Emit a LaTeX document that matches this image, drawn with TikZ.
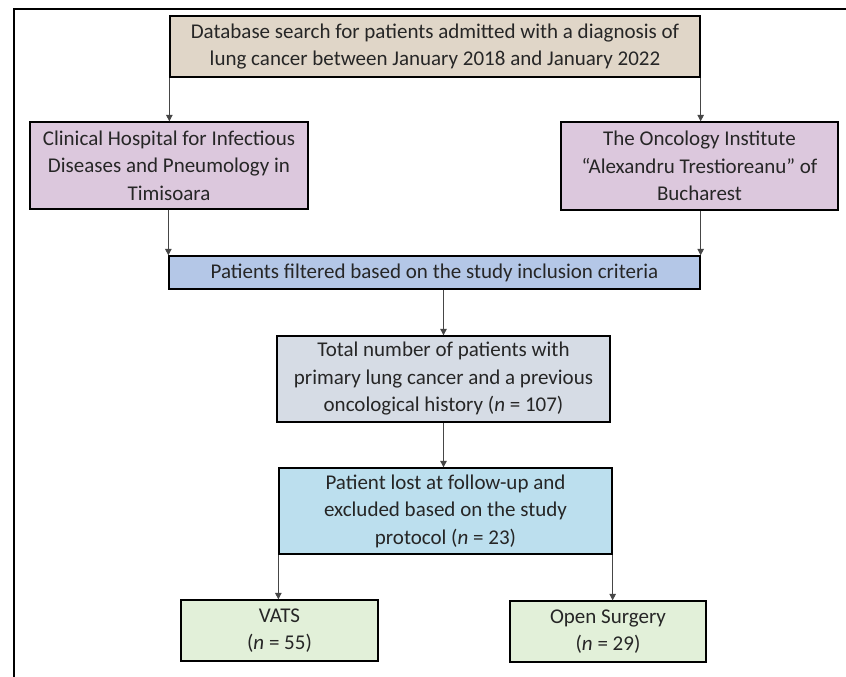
\documentclass[tikz,border=0pt]{standalone}
\usepackage{fontspec}
\setmainfont{Carlito}
\usetikzlibrary{arrows.meta}
\definecolor{cTop}{RGB}{224,214,200}
\definecolor{cPur}{RGB}{220,200,221}
\definecolor{cFil}{RGB}{180,199,231}
\definecolor{cTot}{RGB}{214,220,229}
\definecolor{cLost}{RGB}{188,223,238}
\definecolor{cGrn}{RGB}{226,240,217}
\definecolor{cArr}{RGB}{70,70,70}
\tikzset{
  box/.style={draw=black, line width=1.3pt, align=center, inner sep=0pt,
    font=\fontsize{21}{27.5}\selectfont, text=black!85},
  arr/.style={draw=cArr, line width=0.9pt, -{Triangle[width=6.5pt,length=6.5pt]}}
}
\begin{document}
\begin{tikzpicture}[x=1pt,y=-1pt]
\useasboundingbox (0,0) rectangle (846,677);
\fill[white] (0,0) rectangle (846,677);
\draw[line width=1.3pt] (846,9) -- (14,9) -- (14,677);
\node[box, fill=cTop, minimum width=530pt, minimum height=61pt] (top) at (435,46.5)
  {Database search for patients admitted with a diagnosis of\\lung cancer between January 2018 and January 2022};
\node[box, fill=cPur, minimum width=278pt, minimum height=87pt] (lp) at (169,165.5)
  {Clinical Hospital for Infectious\\Diseases and Pneumology in\\Timisoara};
\node[box, fill=cPur, minimum width=277pt, minimum height=88pt] (rp) at (699.5,166)
  {The Oncology Institute\\“Alexandru Trestioreanu” of\\Bucharest};
\node[box, fill=cFil, minimum width=531pt, minimum height=33pt] (filt) at (434.5,272.5)
  {Patients filtered based on the study inclusion criteria};
\node[box, fill=cTot, minimum width=333pt, minimum height=86pt] (tot) at (443.5,379)
  {Total number of patients with\\primary lung cancer and a previous\\oncological history (\textit{n} = 107)};
\node[box, fill=cLost, minimum width=333pt, minimum height=86pt] (lost) at (445.5,511)
  {Patient lost at follow-up and\\excluded based on the study\\protocol (\textit{n} = 23)};
\node[box, fill=cGrn, minimum width=197pt, minimum height=61pt] (vats) at (279.5,630.5)
  {VATS\\(\textit{n} = 55)};
\node[box, fill=cGrn, minimum width=196pt, minimum height=61pt] (open) at (608,631.5)
  {Open Surgery\\(\textit{n} = 29)};
\draw[arr] (top.south west) -- (top.south west |- lp.north);
\draw[arr] (top.south east) -- (top.south east |- rp.north);
\draw[arr] (filt.north west |- lp.south) -- (filt.north west);
\draw[arr] (filt.north east |- rp.south) -- (filt.north east);
\draw[arr] (tot.north |- filt.south) -- (tot.north);
\draw[arr] (tot.south) -- (tot.south |- lost.north);
\draw[arr] (lost.south west) -- (lost.south west |- vats.north);
\draw[arr] (lost.south east) -- (lost.south east |- open.north);
\end{tikzpicture}
\end{document}
